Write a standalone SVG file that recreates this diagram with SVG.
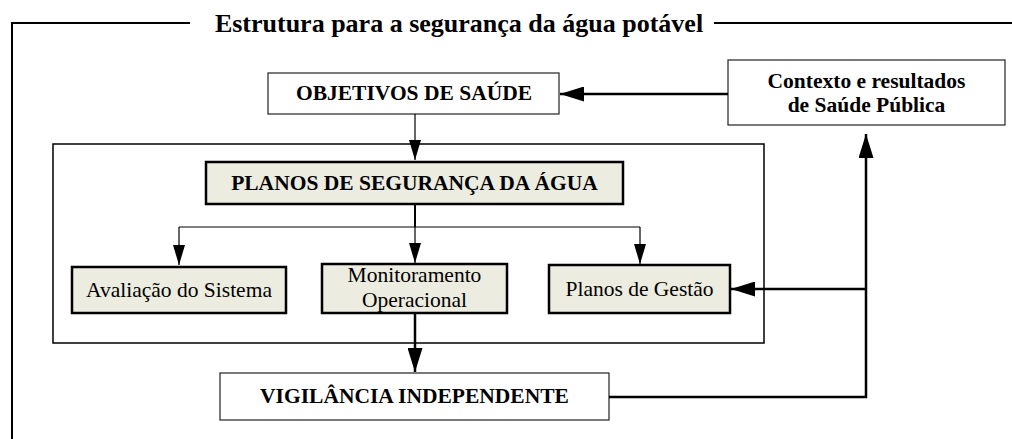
<svg xmlns="http://www.w3.org/2000/svg" width="1012" height="439" viewBox="0 0 1012 439">
<style>
text{font-family:"Liberation Serif","Times New Roman",serif;fill:#000;text-anchor:middle}
.b{font-weight:bold;font-size:21.5px}
.r{font-size:21.5px}
.t{font-weight:bold;font-size:26px}
.plain{fill:#fff;stroke:#222;stroke-width:1.2}
.shade{fill:#ecece0;stroke:#000;stroke-width:2.5}
.ln{fill:none;stroke:#000}
</style>
<defs>
<marker id="ah" viewBox="0 0 20 12" refX="20" refY="6" markerWidth="20" markerHeight="12" markerUnits="userSpaceOnUse" orient="auto"><path d="M0,0L20,6L0,12z" fill="#000"/></marker>
<marker id="ahL" viewBox="0 0 24 15" refX="24" refY="7.5" markerWidth="24" markerHeight="15" markerUnits="userSpaceOnUse" orient="auto"><path d="M0,0L24,7.5L0,15z" fill="#000"/></marker>
</defs>
<g id="frame">
<path class="ln" stroke-width="2" d="M12,439V23H190M714,23H1012"/>
<text class="t" x="459" y="32">Estrutura para a segurança da água potável</text>
</g>
<g id="wsp-container"><rect x="53" y="144" width="711" height="199" fill="none" stroke="#000" stroke-width="1.5"/></g>
<g id="objetivos"><rect class="plain" x="268" y="73" width="291" height="41"/><text class="b" x="414" y="99.5">OBJETIVOS DE SAÚDE</text></g>
<g id="contexto"><rect class="plain" x="728" y="60" width="277" height="65"/><text class="b" x="866.5" y="88">Contexto e resultados</text><text class="b" x="866.5" y="112">de Saúde Pública</text></g>
<g id="planos-seguranca"><rect class="shade" x="206" y="162" width="417" height="42"/><text class="b" x="414.5" y="190">PLANOS DE SEGURANÇA DA ÁGUA</text></g>
<g id="avaliacao"><rect class="shade" x="72" y="267" width="214" height="46"/><text class="r" x="179" y="297">Avaliação do Sistema</text></g>
<g id="monitoramento"><rect class="shade" x="322" y="264" width="185" height="49"/><text class="r" x="414.5" y="282">Monitoramento</text><text class="r" x="414.5" y="307">Operacional</text></g>
<g id="planos-gestao"><rect class="shade" x="549" y="265" width="181" height="48"/><text class="r" x="639.5" y="296">Planos de Gestão</text></g>
<g id="vigilancia"><rect class="plain" x="220" y="373" width="389" height="47"/><text class="b" x="414.5" y="403">VIGILÂNCIA INDEPENDENTE</text></g>
<g id="connectors">
<path class="ln" stroke-width="1.2" d="M415,114V160" marker-end="url(#ah)"/>
<path class="ln" stroke-width="2" d="M415,204V227"/>
<path class="ln" stroke-width="1.2" d="M179,227H640"/>
<path class="ln" stroke-width="1.2" d="M179,227V265" marker-end="url(#ah)"/>
<path class="ln" stroke-width="1.2" d="M415,227V263" marker-end="url(#ah)"/>
<path class="ln" stroke-width="1.2" d="M640,227V264" marker-end="url(#ah)"/>
<path class="ln" stroke-width="2.5" d="M415,313V372" marker-end="url(#ahL)"/>
<path class="ln" stroke-width="2.5" d="M728,94H560" marker-end="url(#ahL)"/>
<path class="ln" stroke-width="2.5" d="M609,397H866V134" marker-end="url(#ahL)"/>
<path class="ln" stroke-width="2.5" d="M866,289H731" marker-end="url(#ahL)"/>
</g>
</svg>
